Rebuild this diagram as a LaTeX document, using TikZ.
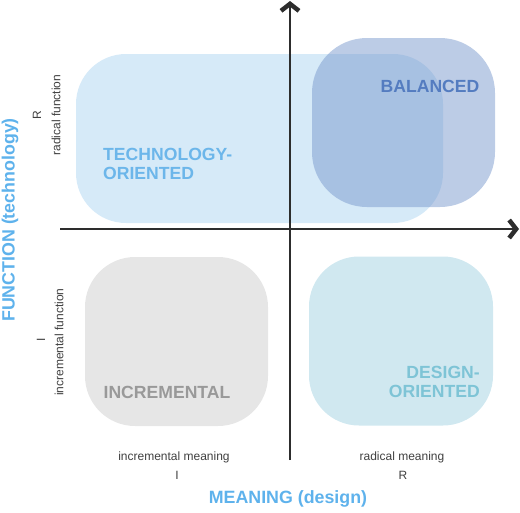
\documentclass[tikz,border=0pt]{standalone}
\usepackage{fontspec}
\setmainfont{Liberation Sans}
\usetikzlibrary{arrows.meta}
\definecolor{techfill}{RGB}{214,234,248}
\definecolor{balfill}{RGB}{121,153,205}
\definecolor{incfill}{RGB}{230,230,230}
\definecolor{desfill}{RGB}{208,232,240}
\definecolor{techtext}{RGB}{108,182,234}
\definecolor{baltext}{RGB}{84,124,192}
\definecolor{inctext}{RGB}{153,153,153}
\definecolor{destext}{RGB}{126,196,214}
\definecolor{axistext}{RGB}{94,178,236}
\definecolor{axisgray}{RGB}{45,45,45}
\definecolor{smallgray}{RGB}{64,64,64}
\begin{document}
\begin{tikzpicture}[x=1pt,y=-1pt,
  quad/.style={rectangle,rounded corners=50pt,inner sep=0pt,minimum width=183pt,minimum height=169pt},
  biglabel/.style={font=\fontsize{17.6}{19}\selectfont\bfseries,inner sep=0pt},
  small/.style={font=\fontsize{12}{14}\selectfont,text=smallgray,inner sep=0pt},
  axislabel/.style={font=\fontsize{17.8}{20}\selectfont\bfseries,text=axistext,inner sep=0pt},
  axis/.style={line width=1.8pt,draw=axisgray,-{Straight Barb[length=7pt,width=18pt,line width=4.5pt]}}]
\useasboundingbox (0,0) rectangle (520,512);
% quadrant boxes
\node[quad,fill=techfill,minimum width=367pt] (tech) at (259.5,138.5) {};
\node[quad,fill=balfill,fill opacity=0.5,rounded corners=55pt] (bal) at (403.5,122.5) {};
\node[quad,fill=incfill] (inc) at (176.5,341.5) {};
\node[quad,fill=desfill,minimum width=184pt] (des) at (401,341) {};
% box labels
\node[biglabel,text=techtext,align=left,anchor=west] (techlabel) at (103,164) {TECHNOLOGY-\\ORIENTED};
\node[biglabel,text=baltext] (ballabel) at (430,86) {BALANCED};
\node[biglabel,text=inctext] (inclabel) at (167,392) {INCREMENTAL};
\node[biglabel,text=destext,align=right,anchor=east] (deslabel) at (480,382) {DESIGN-\\ORIENTED};
% axes
\coordinate (xstart) at (60,229);
\coordinate (xend) at (519,229);
\coordinate (ystart) at (290,460);
\coordinate (yend) at (290,1);
\draw[axis] (xstart) -- (xend);
\draw[axis] (ystart) -- (yend);
% axis labels
\node[small] (incmean) at (174,457) {incremental meaning};
\node[small] (incmeanI) at (177,475) {I};
\node[small] (radmean) at (402,457) {radical meaning};
\node[small] (radmeanR) at (403,475) {R};
\node[small,rotate=90] (radfun) at (56,115) {radical function};
\node[small,rotate=90] (radfunR) at (37,115) {R};
\node[small,rotate=90] (incfun) at (59,342) {incremental function};
\node[small,rotate=90] (incfunI) at (41,340) {I};
\node[axislabel] (meaning) at (288,499) {MEANING (design)};
\node[axislabel,rotate=90] (function) at (10,220) {FUNCTION (technology)};
\end{tikzpicture}
\end{document}
